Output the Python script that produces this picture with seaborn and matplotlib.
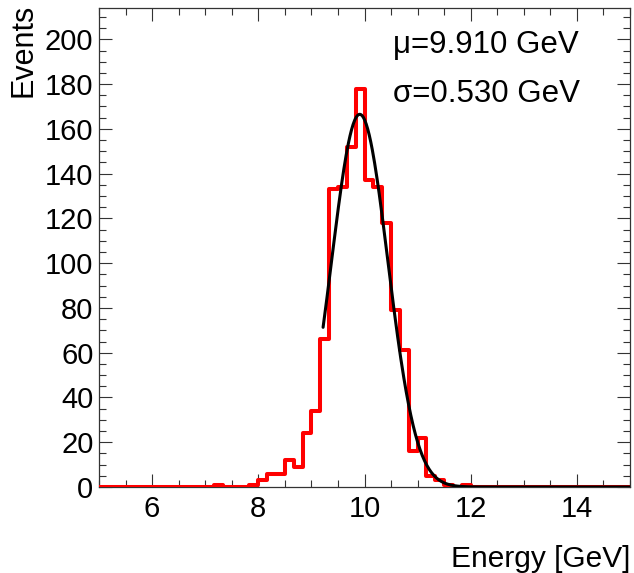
import numpy as np
import pandas as pd
import matplotlib
matplotlib.use("Agg")
import matplotlib.pyplot as plt
import seaborn as sns
from matplotlib.ticker import MultipleLocator

# ---- data ----
x_min, x_max, n_bins = 5.0, 15.0, 60
counts = [0, 0, 0, 0, 0, 0, 0, 0, 0, 0, 0, 0, 0, 1, 0, 0, 0, 1, 3, 6,
          6, 12, 9, 24, 34, 66, 133, 134, 152, 178, 137, 134, 118, 79, 61, 16, 22, 5, 3, 1,
          0, 1, 0, 0, 0, 0, 0, 0, 0, 0, 0, 0, 0, 0, 0, 0, 0, 0, 0, 0]
fit_mu = 9.910
fit_sigma = 0.530
fit_amp = 166.5
fit_range = (9.22, 15.0)
x_label = "Energy [GeV]"
y_label = "Events"
ann_mu = "\u03bc=9.910 GeV"
ann_sigma = "\u03c3=0.530 GeV"

edges = np.linspace(x_min, x_max, n_bins + 1)
centers = 0.5 * (edges[:-1] + edges[1:])
df = pd.DataFrame({"energy": centers, "w": counts})

xf = np.linspace(fit_range[0], fit_range[1], 400)
fit_df = pd.DataFrame({"x": xf, "y": fit_amp * np.exp(-0.5 * ((xf - fit_mu) / fit_sigma) ** 2)})

sns.set_style("ticks")
plt.rcParams["font.family"] = ["Liberation Sans", "DejaVu Sans"]
plt.rcParams["text.color"] = "black"
plt.rcParams["xtick.color"] = "black"
plt.rcParams["ytick.color"] = "black"

W, H = 634, 573
fig = plt.figure(figsize=(W / 100, H / 100), dpi=100)
ax = fig.add_axes([99 / W, 1 - 487 / H, (630 - 99) / W, (487 - 8) / H])

sns.histplot(data=df, x="energy", weights="w", binwidth=(x_max - x_min) / n_bins,
             binrange=(x_min, x_max), element="step", fill=False,
             color="#ff0000", linewidth=2.9, ax=ax, zorder=3)
sns.lineplot(data=fit_df, x="x", y="y", color="black", linewidth=2.2, ax=ax, zorder=4)

ax.set_xlim(x_min, x_max)
ax.set_ylim(0, 214)
ax.set_xlabel("")
ax.set_ylabel("")

ax.xaxis.set_major_locator(MultipleLocator(2))
ax.xaxis.set_minor_locator(MultipleLocator(0.5))
ax.yaxis.set_major_locator(MultipleLocator(20))
ax.yaxis.set_minor_locator(MultipleLocator(5))
ax.tick_params(which="both", direction="in", top=True, right=True, width=0.8,
               color="#333333", labelcolor="black", labelsize=21)
ax.tick_params(which="major", length=9.5)
ax.tick_params(which="minor", length=4.7)
ax.tick_params(axis="x", which="major", pad=6)
ax.tick_params(axis="y", which="major", pad=4)
for s in ax.spines.values():
    s.set_linewidth(0.9)
    s.set_color("#333333")

fig.text(630 / W, 1 - 567 / H, x_label, ha="right", va="baseline", fontsize=21.5)
fig.text(39 / W, 1 - 4 / H, y_label, ha="right", va="top", rotation=90, fontsize=22)
fig.text(393 / W, 1 - 53 / H, ann_mu, ha="left", va="baseline", fontsize=22.5)
fig.text(393 / W, 1 - 102 / H, ann_sigma, ha="left", va="baseline", fontsize=22.5)

fig.savefig("out.png", dpi=100)
